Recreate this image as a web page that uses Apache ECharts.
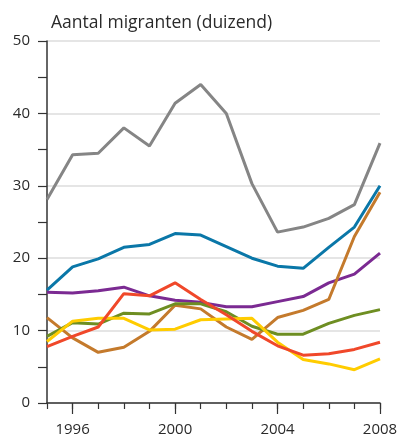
<!DOCTYPE html>
<html>
<head>
<meta charset="utf-8">
<script src="https://cdn.jsdelivr.net/npm/echarts@6/dist/echarts.min.js"></script>
<style>
  html, body { margin: 0; padding: 0; background: #fff; }
  #chart { width: 403px; height: 439px; }
</style>
</head>
<body>
<div id="chart"></div>
<script>
var years = ['1995', '1996', '1997', '1998', '1999', '2000', '2001', '2002', '2003', '2004', '2005', '2006', '2007', '2008'];
var shownYears = ['1996', '2000', '2004', '2008'];

var grey   = [28.1, 34.3, 34.5, 38.0, 35.5, 41.4, 44.0, 40.0, 30.3, 23.6, 24.3, 25.5, 27.4, 35.9];
var blue   = [15.6, 18.8, 19.9, 21.5, 21.9, 23.4, 23.2, 21.6, 20.0, 18.9, 18.6, 21.5, 24.3, 30.0];
var purple = [15.3, 15.2, 15.5, 16.0, 14.8, 14.2, 13.9, 13.3, 13.3, 14.0, 14.7, 16.6, 17.8, 20.7];
var brown  = [11.8, 9.0, 7.0, 7.7, 9.9, 13.5, 13.0, 10.5, 8.8, 11.8, 12.8, 14.3, 23.0, 29.1];
var olive  = [9.2, 11.1, 10.9, 12.4, 12.3, 13.7, 13.7, 12.6, 10.6, 9.5, 9.5, 11.0, 12.1, 12.9];
var red    = [7.8, 9.2, 10.5, 15.1, 14.8, 16.6, 14.3, 12.2, 9.9, 7.9, 6.6, 6.8, 7.4, 8.4];
var yellow = [8.5, 11.3, 11.7, 11.7, 10.1, 10.2, 11.5, 11.6, 11.7, 8.4, 6.0, 5.4, 4.6, 6.1];

var seriesData = [
    {name: 'grijs', data: grey, color: '#858585'},
    {name: 'blauw', data: blue, color: '#0a77a8'},
    {name: 'paars', data: purple, color: '#7b2a92'},
    {name: 'oker', data: brown, color: '#c47a2c'},
    {name: 'olijf', data: olive, color: '#6e8e22'},
    {name: 'geel', data: yellow, color: '#ffcc00'},
    {name: 'rood', data: red, color: '#f0482a'}
];

var font = '"Open Sans", sans-serif';
var dom = document.getElementById('chart');
var myChart = echarts.init(dom);

function isShown(idx) {
    return shownYears.indexOf(years[idx]) >= 0;
}

var option = {
    animation: false,
    title: {
        text: 'Aantal migranten (duizend)',
        left: 46,
        top: 9,
        textStyle: {fontFamily: font, fontWeight: 'normal', fontSize: 17.5, color: '#2a2a2a'}
    },
    grid: {left: 47, right: 23, top: 41, bottom: 36},
    xAxis: [
        {
            // korte streepjes voor elk jaar
            type: 'category',
            data: years,
            boundaryGap: false,
            axisLine: {lineStyle: {color: '#333', width: 1.5}},
            axisTick: {show: true, interval: 0, length: 6, lineStyle: {color: '#333', width: 1.2}},
            axisLabel: {show: false},
            splitLine: {show: false}
        },
        {
            // lange streepjes + labels om de 4 jaar
            type: 'category',
            data: years,
            position: 'bottom',
            boundaryGap: false,
            axisLine: {show: false},
            axisTick: {show: true, interval: function(i) { return isShown(i); }, length: 11, lineStyle: {color: '#333', width: 1.2}},
            axisLabel: {
                interval: function(i) { return isShown(i); },
                margin: 19,
                fontFamily: font,
                fontSize: 15,
                color: '#2a2a2a'
            },
            splitLine: {show: false}
        }
    ],
    yAxis: {
        type: 'value',
        min: 0,
        max: 50,
        interval: 10,
        axisLine: {show: true, lineStyle: {color: '#333', width: 1.5}},
        axisTick: {show: true, length: 9, lineStyle: {color: '#333', width: 1.2}},
        minorTick: {show: true, splitNumber: 2, length: 9, lineStyle: {color: '#333', width: 1.2}},
        axisLabel: {margin: 17, fontFamily: font, fontSize: 15, color: '#2a2a2a'},
        splitLine: {show: true, lineStyle: {color: '#dcdcdc', width: 1.5}}
    },
    series: seriesData.map(function(s) {
        return {
            name: s.name,
            type: 'line',
            xAxisIndex: 0,
            data: s.data,
            symbol: 'none',
            lineStyle: {color: s.color, width: 3},
            itemStyle: {color: s.color}
        };
    })
};

myChart.setOption(option, true);
window.onresize = myChart.resize;
</script>
</body>
</html>
